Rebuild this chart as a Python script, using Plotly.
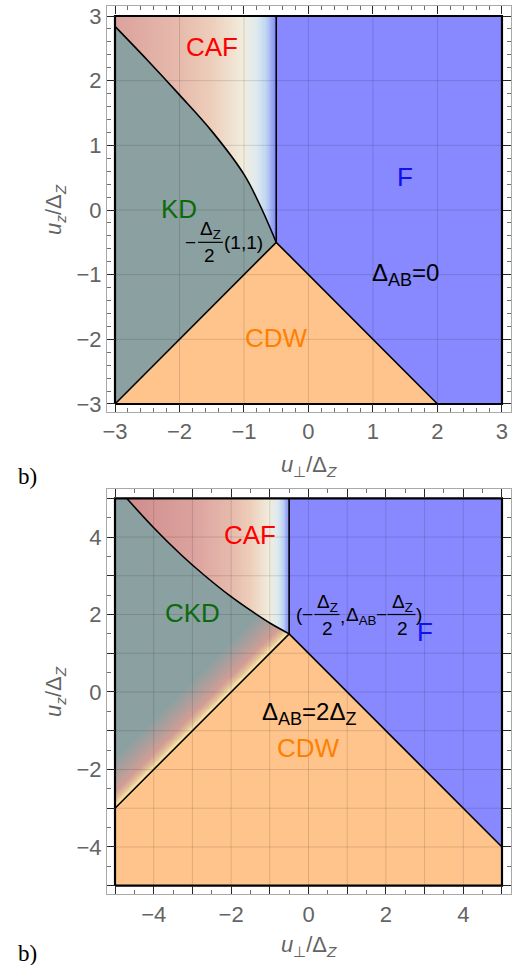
import numpy as np
import plotly.graph_objects as go

# ---------------- data ----------------
# top panel (Delta_AB = 0)
top_lim = [-3, 3]
top_triple = [-0.5, -0.5]
top_cdw_f_end = [2, -3]
top_curve_x = [-3.0, -2.5, -2.0, -1.5, -1.0, -0.75, -0.5]
top_curve_y = [2.84, 2.32, 1.78, 1.22, 0.55, 0.07, -0.5]
top_ticks = [-3, -2, -1, 0, 1, 2, 3]
top_ticktext = ["−3", "−2", "−1", "0", "1", "2", "3"]

# bottom panel (Delta_AB = 2 Delta_Z)
bot_lim = [-5, 5]
bot_triple = [-0.5, 1.5]
bot_kd_cdw_start = [-5, -3]
bot_cdw_f_end = [5, -4]
bot_curve_x = [-4.7, -4.0, -3.3, -2.7, -2.0, -1.4, -1.0, -0.5]
bot_curve_y = [5.0, 4.24, 3.55, 3.02, 2.46, 2.04, 1.78, 1.5]
bot_ticks = list(range(-5, 6))
bot_ticktext = ["", "−4", "", "−2", "", "0", "", "2", "", "4", ""]

# phase labels
top_lab_text = ["CAF", "KD", "F", "CDW", "Δ<sub>AB</sub>=0"]
top_lab_x = [-1.5, -2.0, 1.5, -0.5, 1.5]
top_lab_y = [2.52, 0.02, 0.51, -1.98, -1.0]
top_lab_col = ["#ff0000", "#0b6a0b", "#1010f0", "#ff8000", "#000000"]

bot_lab_text = ["CAF", "CKD", "F", "Δ<sub>AB</sub>=2Δ<sub>Z</sub>", "CDW"]
bot_lab_x = [-1.5, -3.0, 3.0, 0.0, 0.0]
bot_lab_y = [4.05, 2.03, 1.55, -0.55, -1.45]
bot_lab_col = ["#ff0000", "#0b6a0b", "#1010f0", "#000000", "#ff8000"]

# ---------------- styles ----------------
C_KD = "rgb(139,160,160)"
C_CDW = "rgb(255,196,140)"
C_F = "rgb(136,136,255)"
GRID = "rgba(0,0,0,0.13)"
caf_stops = [(-5, "rgb(206,136,138)"), (-3, "rgb(219,162,157)"), (-2, "rgb(230,186,172)"),
             (-1.5, "rgb(237,206,186)"), (-1.0, "rgb(241,237,222)"), (-0.8, "rgb(222,234,238)"),
             (-0.65, "rgb(190,212,242)"), (-0.5, "rgb(130,135,245)")]
BAND = 1.3
ckd_stops = [(0, "rgb(250,236,165)"), (0.08, "rgb(245,224,160)"), (0.2, "rgb(228,190,155)"),
             (0.4, "rgb(210,158,148)"), (0.75, "rgb(180,158,155)"), (1.3, "rgb(139,160,160)")]
CX0, CX1 = caf_stops[0][0], caf_stops[-1][0]
colorscale = [[0.5 * (v - CX0) / (CX1 - CX0), c] for v, c in caf_stops] + \
             [[0.5 + 0.5 * v / BAND, c] for v, c in ckd_stops]


def zcaf(x):
    return 0.5 * (x - CX0) / (CX1 - CX0)


FONT = "Liberation Sans"
fig = go.Figure()


def add_poly(xs, ys, color, xa, ya):
    fig.add_trace(go.Scatter(x=xs, y=ys, fill="toself", fillcolor=color, mode="lines",
                             line=dict(width=0, color=color), xaxis=xa, yaxis=ya,
                             hoverinfo="skip", showlegend=False))


def add_line(xs, ys, xa, ya, width=1.6, shape="linear"):
    fig.add_trace(go.Scatter(x=xs, y=ys, mode="lines", line=dict(color="black", width=width, shape=shape),
                             xaxis=xa, yaxis=ya, hoverinfo="skip", showlegend=False))


def add_grid(lim, ticks, xa, ya):
    gx, gy = [], []
    for t in ticks:
        if lim[0] < t < lim[1]:
            gx += [t, t, None]; gy += [lim[0], lim[1], None]
            gx += [lim[0], lim[1], None]; gy += [t, t, None]
    fig.add_trace(go.Scatter(x=gx, y=gy, mode="lines", line=dict(color=GRID, width=1),
                             xaxis=xa, yaxis=ya, hoverinfo="skip", showlegend=False))


# ---------------- top panel ----------------
lo, hi = top_lim
tx, ty = top_triple
xe = np.linspace(lo, tx, 201)
xc = (xe[:-1] + xe[1:]) / 2
fig.add_trace(go.Heatmap(x=xe, y=[ty, hi], z=[np.round(zcaf(xc), 5).tolist()], zmin=0, zmax=1,
                         colorscale=colorscale, showscale=False, hoverinfo="skip", xaxis="x", yaxis="y"))
add_poly([lo, tx] + top_curve_x[::-1], [lo, ty] + top_curve_y[::-1], C_KD, "x", "y")
add_poly([lo, tx, top_cdw_f_end[0]], [lo, ty, top_cdw_f_end[1]], C_CDW, "x", "y")
add_poly([tx, tx, hi, hi, top_cdw_f_end[0]], [ty, hi, hi, lo, top_cdw_f_end[1]], C_F, "x", "y")
add_grid(top_lim, list(range(lo, hi + 1)), "x", "y")
add_line(top_curve_x, top_curve_y, "x", "y", shape="spline")
add_line([tx, tx], [ty, hi], "x", "y")
add_line([lo, tx, top_cdw_f_end[0]], [lo, ty, top_cdw_f_end[1]], "x", "y")
add_line([lo, hi, hi, lo, lo], [lo, lo, hi, hi, lo], "x", "y", width=2.2)

# ---------------- bottom panel ----------------
lo, hi = bot_lim
bx, by = bot_triple
xe = np.linspace(lo, bx, 241)
ye = np.linspace(bot_kd_cdw_start[1], hi, 321)
xc = (xe[:-1] + xe[1:]) / 2
yc = (ye[:-1] + ye[1:]) / 2
X, Y = np.meshgrid(xc, yc)
above = Y > np.interp(X, bot_curve_x, bot_curve_y)
s = np.clip(Y - X - (by - bx), 0, BAND)
Z = np.where(above, zcaf(X), 0.5 + 0.5 * s / BAND)
fig.add_trace(go.Heatmap(x=xe, y=ye, z=np.round(Z, 4).tolist(), zmin=0, zmax=1,
                         colorscale=colorscale, showscale=False, hoverinfo="skip", xaxis="x2", yaxis="y2"))
add_poly([bot_kd_cdw_start[0], bx, bot_cdw_f_end[0], hi, lo],
         [bot_kd_cdw_start[1], by, bot_cdw_f_end[1], lo, lo], C_CDW, "x2", "y2")
add_poly([bx, bx, hi, bot_cdw_f_end[0]], [by, hi, hi, bot_cdw_f_end[1]], C_F, "x2", "y2")
add_grid(bot_lim, bot_ticks, "x2", "y2")
add_line(bot_curve_x, bot_curve_y, "x2", "y2", shape="spline")
add_line([bx, bx], [by, hi], "x2", "y2")
add_line([bot_kd_cdw_start[0], bx, bot_cdw_f_end[0]], [bot_kd_cdw_start[1], by, bot_cdw_f_end[1]], "x2", "y2")
add_line([lo, hi, hi, lo, lo], [lo, lo, hi, hi, lo], "x2", "y2", width=2.2)

# ---------------- annotations ----------------
ann = []


def sub(t, px):
    return t.replace("<sub>", f"<sub><span style='font-size:{px}px'>").replace("</sub>", "</span></sub>")


for xr, yr, texts, xs, ys, cols in [("x", "y", top_lab_text, top_lab_x, top_lab_y, top_lab_col),
                                     ("x2", "y2", bot_lab_text, bot_lab_x, bot_lab_y, bot_lab_col)]:
    for t, x, y, c in zip(texts, xs, ys, cols):
        big = "Δ" not in t
        ann.append(dict(x=x, y=y, xref=xr, yref=yr, text=t if big else sub(t, 18), showarrow=False,
                        xanchor="center", yanchor="middle",
                        font=dict(family=FONT, size=26 if big else 24, color=c)))

shapes = []
MF = dict(family=FONT, size=19, color="black")


def frac_parts(xr, yr, ax, ay, items, bars):
    for text, dx, dy in items:
        ann.append(dict(x=ax, y=ay, xref=xr, yref=yr, text=text, showarrow=False,
                        xanchor="center", yanchor="middle", xshift=dx, yshift=dy, font=MF))
    for x0, x1 in bars:
        shapes.append(dict(type="line", xref=xr, yref=yr, xsizemode="pixel", ysizemode="pixel",
                           xanchor=ax, yanchor=ay, x0=x0, x1=x1, y0=0, y1=0,
                           line=dict(color="black", width=1.2)))


# top: -(Δz/2)(1,1)
frac_parts("x", "y", -1.0, -0.5,
           [("−", -53, 0), ("Δ<sub>Z</sub>", -33, 12), ("2", -34, -13), ("(1,1)", 0, 0)],
           [(-46, -21)])
# bottom: (-Δz/2, ΔAB - Δz/2)
frac_parts("x2", "y2", 0.0, 2.0,
           [("(", -9, 0), ("−", -1, 0), ("Δ<sub>Z</sub>", 19, 12), ("2", 19, -14), (",", 34, -2),
            ("Δ<sub>AB</sub>", 53, -1), ("−", 73, 0), ("Δ<sub>Z</sub>", 94, 12), ("2", 94, -14), (")", 110, 0)],
           [(6, 31), (79, 107)])

GRAY = "rgb(100,100,100)"
TF = dict(family=FONT, size=22, color=GRAY)
xt = "<i>u</i><sub>⊥</sub>/Δ<sub><i>Z</i></sub>"
yt = "<i>u</i><sub><i>z</i></sub>/Δ<sub><i>Z</i></sub>"
for xp, yp, t, ang in [(309, 466, xt, 0), (55, 210, yt, -90), (309, 946, xt, 0), (55, 692, yt, -90)]:
    ann.append(dict(x=xp / 518, y=1 - yp / 965, xref="paper", yref="paper", text=t, showarrow=False,
                    xanchor="center", yanchor="middle", textangle=ang, font=TF))
for yp in [476, 953]:
    ann.append(dict(x=27 / 518, y=1 - yp / 965, xref="paper", yref="paper", text="b)", showarrow=False,
                    xanchor="center", yanchor="middle",
                    font=dict(family="Liberation Serif", size=23, color="black")))


def axis(rng, dom, tickvals, ticktext, minor_dt, anchor):
    return dict(range=rng, domain=dom, anchor=anchor, showgrid=False, zeroline=False,
                showline=True, linecolor="rgb(170,170,170)", linewidth=1, mirror="ticks",
                ticks="inside", ticklen=8, tickwidth=1, tickcolor="rgb(40,40,40)",
                tickmode="array", tickvals=tickvals, ticktext=ticktext,
                tickfont=dict(family=FONT, size=22, color=GRAY),
                minor=dict(dtick=minor_dt, ticks="inside", ticklen=4, tickcolor="rgb(110,110,110)",
                           showgrid=False),
                automargin=False, fixedrange=True)


XD = [107 / 518, 511 / 518]
fig.update_layout(
    width=518, height=965, margin=dict(l=0, r=0, t=0, b=0, autoexpand=False),
    paper_bgcolor="white", plot_bgcolor="white", showlegend=False,
    xaxis=axis([-3.124, 3.14], XD, top_ticks, top_ticktext, 0.2, "y"),
    yaxis=axis([-3.124, 3.155], [1 - 412 / 965, 1 - 6 / 965], top_ticks, top_ticktext, 0.2, "x"),
    xaxis2=axis([-5.207, 5.233], XD, bot_ticks, bot_ticktext, 0.5, "y2"),
    yaxis2=axis([-5.222, 5.232], [1 - 894.3 / 965, 1 - 489.3 / 965], bot_ticks, bot_ticktext, 0.5, "x2"),
    annotations=ann, shapes=shapes,
)
fig.write_html("out.html", config={"displayModeBar": False},
               post_script="document.body.style.margin='0px';")
